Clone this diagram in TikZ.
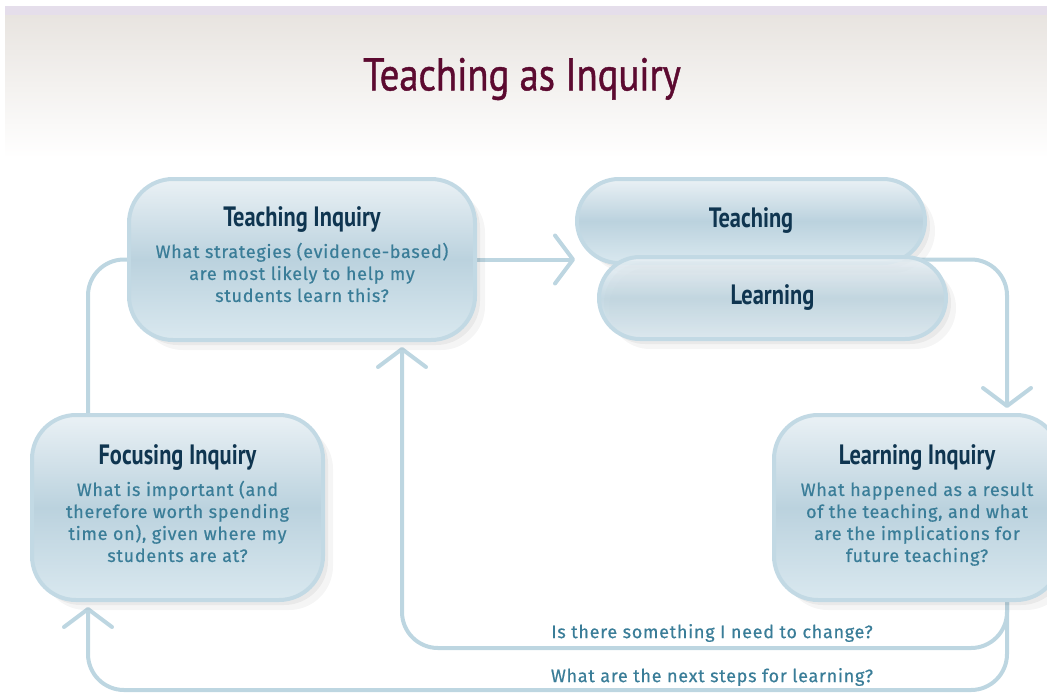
\documentclass[tikz,border=0pt]{standalone}
\usepackage{fontspec}
\setmainfont{Fira Sans}[LetterSpace=4.0,FakeBold=0.5]
\newfontfamily\titlefont[FakeStretch=0.84,FakeBold=0.9]{PT Sans}
\newfontfamily\headfont[FakeStretch=0.8]{PT Sans}
\usetikzlibrary{arrows.meta,shadows,backgrounds}

\definecolor{titlered}{HTML}{5C0A30}
\definecolor{headblue}{HTML}{0F3550}
\definecolor{bodyteal}{HTML}{3A7D98}
\definecolor{flowblue}{HTML}{BDD6E1}
\definecolor{boxedge}{HTML}{C2D9E4}
\definecolor{boxtop}{HTML}{EAF1F5}
\definecolor{boxmid}{HTML}{BBD2DE}
\definecolor{boxbot}{HTML}{D9E8EF}
\definecolor{hdlav}{HTML}{E5DEEB}
\definecolor{hdgrey}{HTML}{E8E4E0}

\newcommand\boxhead{\headfont\bfseries\fontsize{28}{30}\selectfont}

\tikzset{
  inqbox/.style={draw=boxedge, line width=4pt, rounded corners=44pt,
    top color=boxtop, bottom color=boxbot, middle color=boxmid,
    align=center, inner sep=0pt, text=bodyteal,
    font=\fontsize{18}{22}\selectfont,
    drop shadow={shadow xshift=10pt, shadow yshift=-10pt, opacity=0.04, fill=black},
    drop shadow={shadow xshift=5pt, shadow yshift=-5pt, opacity=0.05, fill=black}},
  pillbox/.style={inqbox, minimum width=348pt, minimum height=84pt,
    rounded corners=42pt, text=headblue, font=\boxhead},
  flow/.style={draw=flowblue, line width=4pt, rounded corners=36pt},
  chev/.style={-{Straight Barb[length=18pt,width=48pt,round]}},
  flowlbl/.style={text=bodyteal, font=\fontsize{18}{20}\selectfont, inner sep=0pt}
}

\begin{document}
\begin{tikzpicture}[x=1pt,y=-1pt]
	\useasboundingbox (0,0) rectangle (1047,694);
	% header band
	\fill[hdlav] (5,6) rectangle (1047,15);
	\shade[top color=hdgrey, bottom color=white] (5,15) rectangle (1047,158);
	\node[text=titlered, font=\titlefont\fontsize{46}{50}\selectfont] (title) at (522,79) {Teaching as Inquiry};

	% inquiry boxes
	\node[inqbox, minimum width=346pt, minimum height=161pt] (tinq) at (302,259.5)
		{{\boxhead\color{headblue}Teaching Inquiry}\\[9pt]What strategies (evidence-based)\\are most likely to help my\\students learn this?\\[-12pt]\mbox{}};
	\node[inqbox, minimum width=291pt, minimum height=185pt] (focus) at (177.5,507.5)
		{{\boxhead\color{headblue}Focusing Inquiry}\\[9pt]What is important (and\\therefore worth spending\\time on), given where my\\students are at?\\[-14pt]\mbox{}};
	\node[inqbox, minimum width=286pt, minimum height=185pt] (linq) at (917,507.5)
		{{\boxhead\color{headblue}Learning Inquiry}\\[9pt]What happened as a result\\of the teaching, and what\\are the implications for\\future teaching?\\[-14pt]\mbox{}};
	\node[pillbox] (teach) at (751,221) {Teaching};
	\node[pillbox, minimum width=347pt, minimum height=82pt, rounded corners=41pt, fill opacity=0.85, text opacity=1] (learn) at (772.5,298) {Learning};

	% loop labels
	\coordinate (chg) at (712,648);
	\coordinate (nxt) at (712,690);
	\node[flowlbl] (chglbl) at (712,633) {Is there something I need to change?};
	\node[flowlbl] (nxtlbl) at (712,677) {What are the next steps for learning?};

	% connectors
	\begin{scope}[on background layer]
		\draw[flow, chev] (tinq.east) -- (tinq.east -| teach.west);
		\draw[flow, chev] (tinq.east -| learn.center) -| ([xshift=90pt,yshift=5pt]linq.north);
		\draw[flow, chev] ([xshift=90pt]linq.south) |- (chg) -| ([xshift=100pt,yshift=-5pt]tinq.south);
		\draw[flow, chev] ([xshift=90pt]linq.south) |- (nxt) -| ([xshift=-89.5pt,yshift=-5pt]focus.south);
		\draw[flow] ([xshift=-89.5pt]focus.north) |- (tinq.west);
	\end{scope}
\end{tikzpicture}
\end{document}
